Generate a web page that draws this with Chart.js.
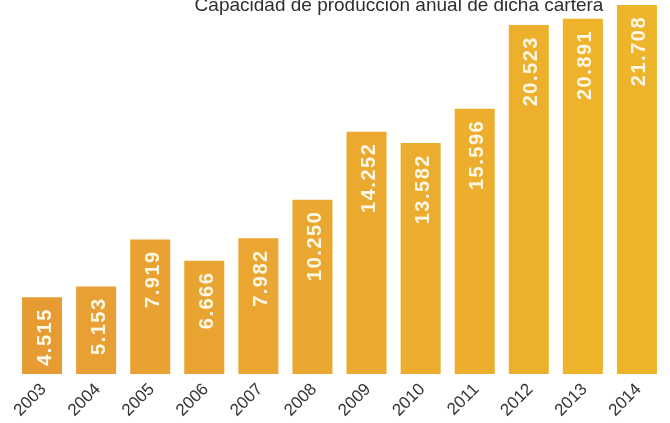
<!DOCTYPE html>
<html>
<head>
<meta charset="utf-8">
<script src="https://cdn.jsdelivr.net/npm/chart.js@4/dist/chart.umd.min.js"></script>
<style>
  html, body { margin: 0; padding: 0; background: #fff; }
  #wrap { width: 670px; height: 423px; position: relative; }
</style>
</head>
<body>
<div id="wrap"><canvas id="chart"></canvas></div>
<script>
/* =========================
   DATA
========================= */
const years = ["2003", "2004", "2005", "2006", "2007", "2008", "2009", "2010", "2011", "2012", "2013", "2014"];
const capacity = [4.515, 5.153, 7.919, 6.666, 7.982, 10.250, 14.252, 13.582, 15.596, 20.523, 20.891, 21.708];
const valueLabels = ["4.515", "5.153", "7.919", "6.666", "7.982", "10.250", "14.252", "13.582", "15.596", "20.523", "20.891", "21.708"];
const titleText = "Capacidad de producción anual de dicha cartera";

// scan gets a bit more yellow towards the right
const barColors = ["#E79C33", "#E89F33", "#E9A232", "#EAA432", "#EAA631", "#EBA830",
                   "#EBAA2F", "#ECAC2E", "#EDAE2D", "#EDB02C", "#EEB22B", "#EEB42B"];

const FONT = "'Liberation Sans', Arial, sans-serif";

/* =========================
   PLUGINS
========================= */
// values written inside the bars, reading upwards from near the top
const barValues = {
  id: "barValues",
  afterDatasetsDraw(chart) {
    const ctx = chart.ctx;
    const meta = chart.getDatasetMeta(0);
    ctx.save();
    ctx.fillStyle = "#fff8e6";
    ctx.font = "bold 20px " + FONT;
    ctx.letterSpacing = "1.5px";
    ctx.textAlign = "right";
    ctx.textBaseline = "middle";
    meta.data.forEach((bar, i) => {
      ctx.save();
      ctx.translate(bar.x + 3, bar.y + 11);
      ctx.rotate(-Math.PI / 2);
      ctx.fillText(valueLabels[i], 0, 0);
      ctx.restore();
    });
    ctx.restore();
  }
};

// year labels at 45 degrees under each bar
const yearLabels = {
  id: "yearLabels",
  afterDraw(chart) {
    const ctx = chart.ctx;
    const xs = chart.scales.x;
    ctx.save();
    ctx.fillStyle = "#333";
    ctx.font = "17px " + FONT;
    ctx.textAlign = "right";
    ctx.textBaseline = "alphabetic";
    years.forEach((y, i) => {
      ctx.save();
      ctx.translate(xs.getPixelForTick(i) + 5, chart.chartArea.bottom + 16);
      ctx.rotate(-Math.PI / 4);
      ctx.fillText(y, 0, 0);
      ctx.restore();
    });
    ctx.restore();
  }
};

// title sits partly cut off at the top edge
const topTitle = {
  id: "topTitle",
  afterDraw(chart) {
    const ctx = chart.ctx;
    ctx.save();
    ctx.fillStyle = "#2e2e2e";
    ctx.font = "19px " + FONT;
    ctx.textAlign = "center";
    ctx.textBaseline = "alphabetic";
    ctx.fillText(titleText, 399, 11);
    ctx.restore();
  }
};

/* =========================
   CHART
========================= */
new Chart(document.getElementById("chart"), {
  type: "bar",
  data: {
    labels: years,
    datasets: [{
      data: capacity,
      backgroundColor: barColors,
      borderWidth: 0,
      barPercentage: 0.74,
      categoryPercentage: 1
    }]
  },
  options: {
    responsive: true,
    maintainAspectRatio: false,
    animation: false,
    layout: { padding: { left: 15, right: 6, top: 0, bottom: 0 } },
    plugins: {
      legend: { display: false },
      tooltip: { enabled: false }
    },
    scales: {
      x: {
        grid: { display: false, drawTicks: false },
        border: { display: false },
        ticks: { display: false },
        afterFit(scale) { scale.height = 49; }
      },
      y: {
        display: false,
        min: 0,
        max: 22
      }
    }
  },
  plugins: [barValues, yearLabels, topTitle]
});
</script>
</body>
</html>
